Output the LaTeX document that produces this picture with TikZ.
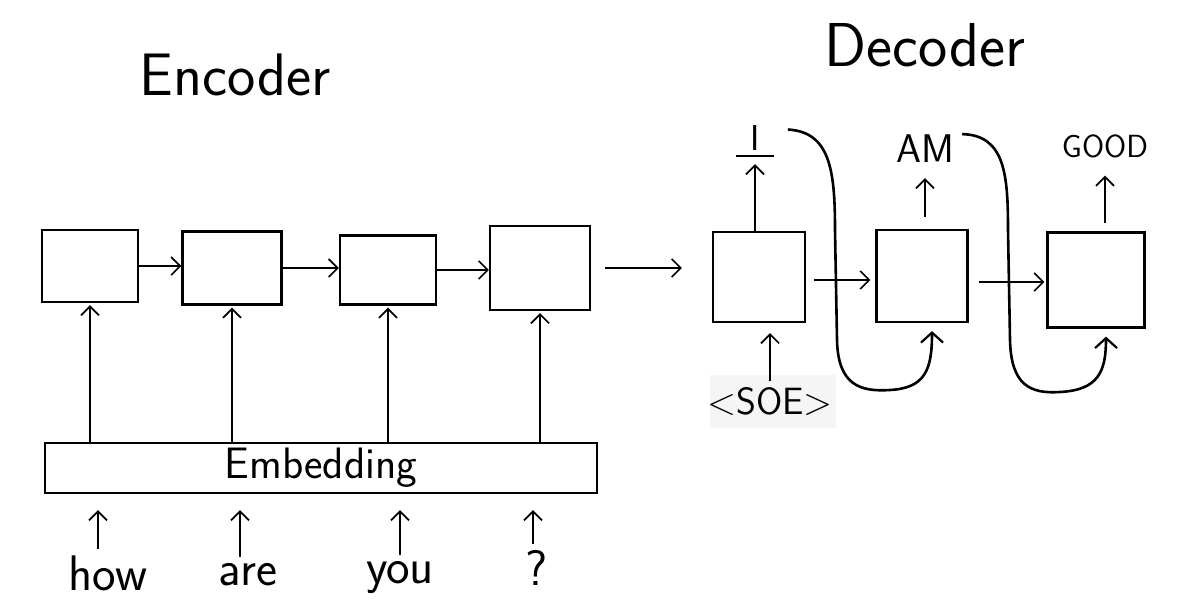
\documentclass[tikz,border=0pt]{standalone}
\usepackage{fontspec}
\usetikzlibrary{arrows.meta,calc}
\begin{document}
\begin{tikzpicture}[x=1pt,y=-1pt,
  cell/.style={draw,line width=2.2pt,inner sep=0pt},
  arr/.style={line width=1.7pt,-{Straight Barb[length=9pt,width=18pt,line width=1.7pt]}},
  curvearr/.style={line width=2.6pt,-{Straight Barb[length=10pt,width=22pt,line width=2.2pt]}},
  lbl/.style={font=\sffamily\fontsize{50}{52}\selectfont,inner sep=0pt},
  title/.style={font=\sffamily\fontsize{60}{62}\selectfont,inner sep=0pt}]
\useasboundingbox (0,0) rectangle (1190,610);
\fill[white] (0,0) rectangle (1190,610);
% titles
\node[title] (enc) at (235,75) {Encoder};
\node[title,font=\sffamily\fontsize{62}{64}\selectfont] (dec) at (925,45) {Decoder};
% encoder cells
\node[cell,minimum width=96pt,minimum height=72pt] (e1) at (90,266) {};
\node[cell,minimum width=99pt,minimum height=73pt] (e2) at (232,268) {};
\node[cell,minimum width=96pt,minimum height=69pt] (e3) at (388,270) {};
\node[cell,minimum width=100pt,minimum height=84pt] (e4) at (540,268) {};
% embedding
\node[cell,minimum width=552pt,minimum height=50pt,font=\sffamily\fontsize{44}{46}\selectfont] (emb) at (321,468) {Embedding};
% words
\node[lbl,anchor=base] (w1) at (108,590) {how};
\node[lbl,anchor=base] (w2) at (248,585) {are};
\node[lbl,anchor=base] (w3) at (400,583) {you};
\node[lbl,anchor=base] (w4) at (537,585) {?};
\foreach \w/\dx in {w1/-10,w2/-8,w3/0,w4/-4}{
  \draw[arr,shorten <=6pt,shorten >=16pt] (\w.north) ++(\dx,0) coordinate (s\w) -- (s\w |- emb.south);
}
% embedding to cells
\foreach \e in {e1,e2,e3,e4}{
  \draw[arr,shorten >=2pt] (emb.north -| \e.south) -- (\e.south);
}
% recurrent arrows encoder
\draw[arr] (e1.east) -- (e1.east -| e2.west);
\draw[arr] (e2.east) -- (e2.east -| e3.west);
\draw[arr] (e3.east) -- (e3.east -| e4.west);
% decoder cells
\node[cell,minimum width=92pt,minimum height=90pt] (d1) at (759,277) {};
\node[cell,minimum width=91pt,minimum height=92pt] (d2) at (922,276) {};
\node[cell,minimum width=97pt,minimum height=95pt] (d3) at (1096,280) {};
\draw[arr,shorten <=14pt,shorten >=30pt] (e4.east) -- (d1.west |- e4.east);
\draw[arr,shorten <=8pt,shorten >=5pt] (d1.east) ++(0,3) coordinate (a1) -- (a1 -| d2.west);
\draw[arr,shorten <=10pt,shorten >=2pt] (d2.east) ++(0,6) coordinate (a2) -- (a2 -| d3.west);
% decoder outputs
\node[lbl,anchor=base,font=\sffamily\fontsize{36}{38}\selectfont] (o1) at (755,150) {I};
\draw[line width=2pt] ($(o1.south west)+(-14,6)$) -- ($(o1.south east)+(14,6)$);
\node[lbl,anchor=base,font=\sffamily\fontsize{40}{42}\selectfont] (o2) at (925,162) {AM};
\node[lbl,anchor=base,font=\sffamily\fontsize{32}{34}\selectfont] (o3) at (1105,157) {GOOD};
\draw[arr,shorten >=14pt] (d1.north -| o1.south) -- (o1.south);
\draw[arr,shorten <=12pt,shorten >=16pt] (d2.north -| o2.south) -- (o2.south);
\draw[arr,shorten <=8pt,shorten >=18pt] (d3.north -| o3.south) -- (o3.south);
% SOE input
\fill[gray!8] (710,375) rectangle (836,428);
\node[lbl,anchor=base,font=\sffamily\fontsize{38}{40}\selectfont] (soe) at (770,414) {\textless SOE\textgreater};
\draw[arr,shorten <=6pt,shorten >=10pt] (soe.north) -- (d1.south -| soe.north);
% feedback curves
\draw[curvearr,shorten >=8pt] ($(o1.east)+(28,-8)$) .. controls (830,132) and (835,170) .. (835,230)
   -- (837,340) .. controls (838,385) and (860,392) .. (890,390)
   .. controls (925,388) and (932,370) .. (d2.south -| 932,0);
\draw[curvearr,shorten >=8pt] ($(o2.east)+(8,-14)$) .. controls (1005,135) and (1008,175) .. (1008,230)
   -- (1010,340) .. controls (1011,385) and (1030,394) .. (1060,392)
   .. controls (1098,390) and (1106,372) .. (d3.south -| 1106,0);
\end{tikzpicture}
\end{document}
